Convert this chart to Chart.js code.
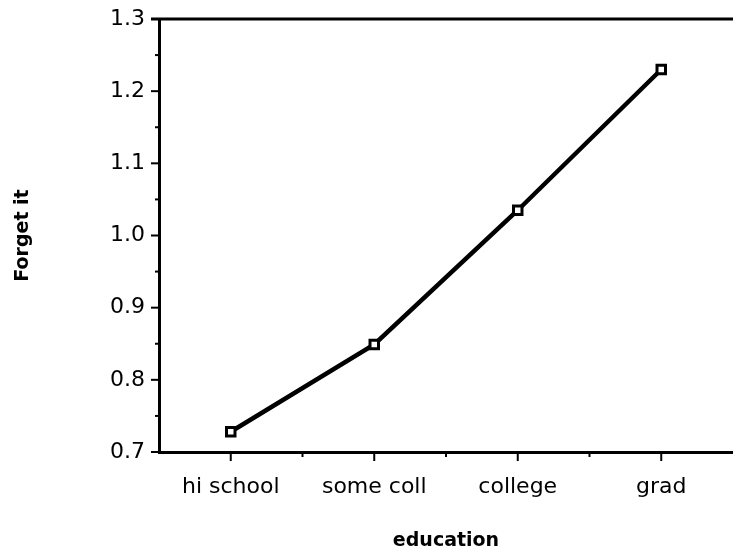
<!DOCTYPE html>
<html>
<head>
<meta charset="utf-8">
<script src="https://cdn.jsdelivr.net/npm/chart.js@4/dist/chart.umd.min.js"></script>
<style>
  body { margin: 0; background: #fff; }
  canvas { display: block; }
</style>
</head>
<body>
<canvas id="chart" width="733" height="552"></canvas>
<script>
// values
var categories = ['hi school', 'some coll', 'college', 'grad'];
var forgetIt = [0.728, 0.849, 1.035, 1.23];
var yMin = 0.7;
var yMax = 1.3;
var yStep = 0.1;

var tickFont = { family: 'DejaVu Sans', size: 22 };
var titleFont = { family: 'DejaVu Sans', size: 19, weight: 'bold' };

// axis frame + tick marks drawn through the scales
var framePlugin = {
  id: 'frame',
  afterDatasetsDraw: function (chart) {
    var ctx = chart.ctx;
    var area = chart.chartArea;
    var x = chart.scales.x;
    var y = chart.scales.y;
    ctx.save();
    ctx.strokeStyle = '#000';
    ctx.lineWidth = 3;
    ctx.lineCap = 'butt';

    // top line
    ctx.beginPath();
    ctx.moveTo(area.left - 8, area.top);
    ctx.lineTo(chart.width, area.top);
    ctx.stroke();

    // y ticks, major and minor
    for (var v = yMin; v <= yMax + 1e-9; v += yStep / 2) {
      var py = y.getPixelForValue(v);
      var major = Math.abs(Math.round(v / yStep) * yStep - v) < 1e-6;
      ctx.lineWidth = 2;
      ctx.beginPath();
      ctx.moveTo(area.left, py);
      ctx.lineTo(area.left - (major ? 8 : 4), py);
      ctx.stroke();
    }

    // x ticks: at categories and between them
    for (var i = 0; i < categories.length; i++) {
      var px = x.getPixelForValue(i);
      ctx.beginPath();
      ctx.moveTo(px, area.bottom);
      ctx.lineTo(px, area.bottom + 9);
      ctx.stroke();
      if (i < categories.length - 1) {
        var bx = x.getPixelForValue(i + 0.5);
        ctx.beginPath();
        ctx.moveTo(bx, area.bottom);
        ctx.lineTo(bx, area.bottom + 5);
        ctx.stroke();
      }
    }
    ctx.restore();
  }
};

new Chart(document.getElementById('chart'), {
  type: 'line',
  data: {
    labels: categories,
    datasets: [
      {
        label: 'Forget it',
        data: forgetIt,
        borderColor: '#000',
        borderWidth: 4.5,
        pointStyle: 'rect',
        pointRadius: 6,
        pointBorderWidth: 3,
        pointBorderColor: '#000',
        pointBackgroundColor: '#fff',
        tension: 0
      },
      {
        label: 'dot',
        data: forgetIt,
        showLine: false,
        pointRadius: 1.4,
        pointBorderWidth: 0,
        pointBackgroundColor: '#000'
      }
    ]
  },
  options: {
    responsive: false,
    animation: false,
    layout: { autoPadding: false, padding: { top: 19, right: 0, left: 0, bottom: 0 } },
    plugins: {
      legend: { display: false },
      tooltip: { enabled: false }
    },
    scales: {
      x: {
        offset: true,
        grid: { display: false, drawTicks: false },
        border: { display: true, color: '#000', width: 3 },
        ticks: { color: '#000', font: tickFont, padding: 22, maxRotation: 0 },
        title: { display: true, text: 'education', color: '#000', font: titleFont, padding: { top: 8, bottom: 0 } },
        afterFit: function (scale) {
          scale.height = 100;
          scale.paddingLeft = 0;
          scale.paddingRight = 0;
        }
      },
      y: {
        min: yMin,
        max: yMax,
        grid: { display: false, drawTicks: false },
        border: { display: true, color: '#000', width: 3 },
        ticks: {
          stepSize: yStep,
          color: '#000',
          font: tickFont,
          padding: 14,
          callback: function (v) { return v.toFixed(1); }
        },
        title: { display: true, text: 'Forget it', color: '#000', font: titleFont, padding: { top: 12, bottom: 0 } },
        afterFit: function (scale) {
          scale.width = 159;
          scale.paddingTop = 0;
          scale.paddingBottom = 0;
        }
      }
    }
  },
  plugins: [framePlugin]
});
</script>
</body>
</html>
